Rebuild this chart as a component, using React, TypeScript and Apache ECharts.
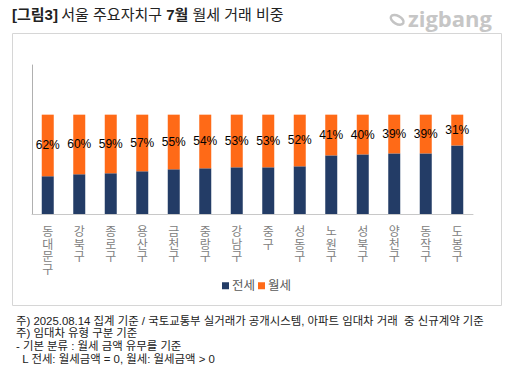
import React, { useEffect, useRef } from "react";
import * as echarts from "echarts";

const categories = ["동대문구", "강북구", "종로구", "용산구", "금천구", "중랑구", "강남구", "중구", "성동구", "노원구", "성북구", "양천구", "동작구", "도봉구"];
const wolseShare = [62, 60, 59, 57, 55, 54, 53, 53, 52, 41, 40, 39, 39, 31];
const jeonseShare = wolseShare.map((v) => 100 - v);
const seriesNames = ["전세", "월세"];
const footnotes = [
  "주) 2025.08.14 집계 기준 / 국토교통부 실거래가 공개시스템, 아파트 임대차 거래  중 신규계약 기준",
  "주) 임대차 유형 구분 기준",
  "- 기본 분류 : 월세 금액 유무를 기준",
  "  L 전세: 월세금액 = 0, 월세: 월세금액 > 0",
];

const FONT = "'Liberation Sans', 'Noto Sans CJK KR', sans-serif";
const NAVY = "#233C66";
const ORANGE = "#FF6A17";

export default function App() {
  const ref = useRef<HTMLDivElement>(null);
  useEffect(() => {
    if (!ref.current) return;
    const chart = echarts.init(ref.current, undefined, { renderer: "svg" });
    chart.setOption({
      animation: false,
      textStyle: { fontFamily: FONT },
      grid: { left: 32, right: 40, top: 65, bottom: 161 },
      xAxis: {
        type: "category",
        data: categories,
        axisLine: { lineStyle: { color: "#c8c8c8" } },
        axisTick: { show: false },
        axisLabel: {
          interval: 0,
          color: "#808080",
          fontSize: 12,
          lineHeight: 12.5,
          margin: 12,
          fontFamily: FONT,
          formatter: (v: string) => v.split("").join("\n"),
        },
      },
      yAxis: {
        type: "value",
        min: 0,
        max: 150,
        axisLine: { show: true, lineStyle: { color: "#b0b0b0" } },
        axisTick: { show: false },
        axisLabel: { show: false },
        splitLine: { show: false },
      },
      legend: {
        data: seriesNames,
        bottom: 78,
        left: "center",
        itemWidth: 7,
        itemHeight: 7,
        itemGap: 3,
        icon: "rect",
        textStyle: { color: "#595959", fontSize: 12.5, fontFamily: FONT, padding: [0, 0, 0, -2] },
      },
      series: [
        {
          name: seriesNames[0],
          type: "bar",
          stack: "s",
          data: jeonseShare,
          barWidth: 12,
          itemStyle: { color: NAVY },
        },
        {
          name: seriesNames[1],
          type: "bar",
          stack: "s",
          data: wolseShare,
          barWidth: 12,
          itemStyle: { color: ORANGE },
          label: {
            show: true,
            position: "inside",
            color: "#000",
            fontSize: 12,
            fontFamily: FONT,
            formatter: "{c}%",
          },
        },
      ],
      graphic: [
        {
          type: "rect",
          shape: { x: 12.5, y: 33.5, width: 489, height: 272 },
          style: { fill: "none", stroke: "#d6d6d6", lineWidth: 1 },
          silent: true,
        },
        {
          type: "text",
          x: 12,
          y: 7,
          style: {
            text: "{b|[그림3]} {n|서울 주요자치구 }{b|7월}{n| 월세 거래 비중}",
            rich: {
              b: { fontSize: 15, fontWeight: "bold", fill: "#222", fontFamily: FONT },
              n: { fontSize: 15, fill: "#222", fontFamily: FONT },
            },
          },
        },
        {
          type: "ellipse",
          shape: { cx: 397, cy: 20, rx: 7, ry: 4 },
          rotation: -0.5,
          originX: 397,
          originY: 20,
          style: { fill: "none", stroke: "#c4c4c4", lineWidth: 2.5 },
        },
        {
          type: "text",
          x: 408,
          y: 7,
          style: {
            text: "zigbang",
            fontSize: 22,
            fontWeight: "bold",
            fill: "#c6c6c6",
            fontFamily: "'Open Sans', 'Liberation Sans', sans-serif",
          },
        },
        ...footnotes.map((t, i) => ({
          type: "text",
          x: 16,
          y: 315 + [0, 12, 25, 38][i],
          style: { text: t, fontSize: 11.4, fill: "#222", fontFamily: FONT },
        })),
      ],
    });
    return () => chart.dispose();
  }, []);
  return <div ref={ref} style={{ width: 513, height: 375, position: "absolute", left: 0, top: 0, background: "#fff" }} />;
}
